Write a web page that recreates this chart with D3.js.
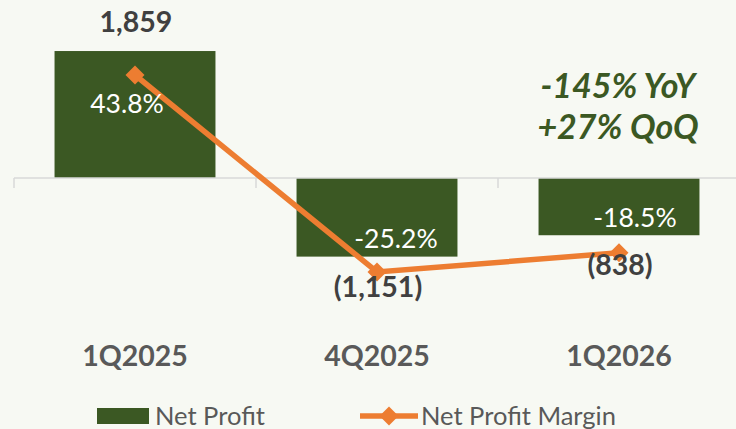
<!DOCTYPE html>
<html>
<head>
<meta charset="utf-8">
<script src="https://cdn.jsdelivr.net/npm/d3@7"></script>
<style>
  html, body { margin: 0; padding: 0; background: #f7f9f3; }
  svg { display: block; font-family: Lato, "Open Sans", sans-serif; }
</style>
</head>
<body>
<div id="chart"></div>
<script>
const categories = ["1Q2025", "4Q2025", "1Q2026"];
const netProfit = [1859, -1151, -838];
const netMargin = [43.8, -25.2, -18.5];
const profitLabels = ["1,859", "(1,151)", "(838)"];
const marginLabels = ["43.8%", "-25.2%", "-18.5%"];
const notes = ["-145% YoY", "+27% QoQ"];

const width = 736, height = 429;
const green = "#3b5823", orange = "#ed7d31", grey = "#595959";

const svg = d3.select("#chart").append("svg")
    .attr("width", width)
    .attr("height", height);

const x = d3.scaleBand()
    .domain(categories)
    .range([14, 740])
    .paddingInner(0.335)
    .paddingOuter(0.1675);

const y = d3.scaleLinear().domain([-2000, 2000]).range([314.6, 41.4]);
const y2 = d3.scaleLinear().domain([-50, 50]).range([342.7, 57.3]);

const cx = d => x(d) + x.bandwidth() / 2;

// bars
svg.selectAll(".bar")
    .data(netProfit)
    .enter().append("rect")
    .attr("class", "bar")
    .attr("x", (d, i) => x(categories[i]))
    .attr("y", d => Math.min(y(d), y(0)))
    .attr("width", x.bandwidth())
    .attr("height", d => Math.abs(y(d) - y(0)))
    .attr("fill", green);

// category axis line + ticks
const axis = svg.append("g").attr("transform", `translate(0,${y(0)})`);
axis.append("line")
    .attr("x1", 14).attr("x2", 740)
    .attr("stroke", "#d9d9d9").attr("stroke-width", 1.5);
const step = x.step();
axis.selectAll(".tick")
    .data(d3.range(categories.length + 1))
    .enter().append("line")
    .attr("x1", i => 14 + i * step).attr("x2", i => 14 + i * step)
    .attr("y1", 0).attr("y2", 10)
    .attr("stroke", "#d9d9d9").attr("stroke-width", 1.5);

// category labels
svg.selectAll(".cat")
    .data(categories)
    .enter().append("text")
    .attr("x", d => cx(d))
    .attr("y", 366)
    .attr("text-anchor", "middle")
    .attr("font-size", 28.5)
    .attr("font-weight", 700)
    .attr("fill", grey)
    .text(d => d);

// margin line
const line = d3.line()
    .x((d, i) => cx(categories[i]))
    .y(d => y2(d));

svg.append("path")
    .datum(netMargin)
    .attr("d", line)
    .attr("fill", "none")
    .attr("stroke", orange)
    .attr("stroke-width", 5.5);

const diamond = r => `M0,${-r}L${r},0L0,${r}L${-r},0Z`;

svg.selectAll(".marker")
    .data(netMargin)
    .enter().append("path")
    .attr("d", diamond(9.5))
    .attr("transform", (d, i) => `translate(${cx(categories[i])},${y2(d)})`)
    .attr("fill", orange);

// profit labels
svg.selectAll(".plabel")
    .data(netProfit)
    .enter().append("text")
    .attr("x", (d, i) => cx(categories[i]) + 1)
    .attr("y", d => d >= 0 ? y(d) - 19 : y(d) + 40)
    .attr("text-anchor", "middle")
    .attr("font-size", 28.5)
    .attr("font-weight", 700)
    .attr("fill", "#404040")
    .text((d, i) => profitLabels[i]);

// margin labels
const labelOffsets = [[-8, 38], [19, -24], [16, -26]];
svg.selectAll(".mlabel")
    .data(netMargin)
    .enter().append("text")
    .attr("x", (d, i) => cx(categories[i]) + labelOffsets[i][0])
    .attr("y", (d, i) => y2(d) + labelOffsets[i][1])
    .attr("text-anchor", "middle")
    .attr("font-size", 26.5)
    .attr("fill", "#ffffff")
    .text((d, i) => marginLabels[i]);

// YoY / QoQ note
svg.selectAll(".note")
    .data(notes)
    .enter().append("text")
    .attr("x", 618)
    .attr("y", (d, i) => 98 + i * 41)
    .attr("text-anchor", "middle")
    .attr("font-size", 34)
    .attr("font-weight", 700)
    .attr("font-style", "italic")
    .attr("fill", green)
    .text(d => d);

// legend
const legend = svg.append("g");
legend.append("rect")
    .attr("x", 97).attr("y", 408)
    .attr("width", 52).attr("height", 16)
    .attr("fill", green);
legend.append("text")
    .attr("x", 155).attr("y", 425)
    .attr("font-size", 25.5)
    .attr("fill", grey)
    .text("Net Profit");
legend.append("line")
    .attr("x1", 360).attr("x2", 418)
    .attr("y1", 416).attr("y2", 416)
    .attr("stroke", orange).attr("stroke-width", 5.5);
legend.append("path")
    .attr("d", diamond(9.5))
    .attr("transform", "translate(389,416)")
    .attr("fill", orange);
legend.append("text")
    .attr("x", 421).attr("y", 425)
    .attr("font-size", 25.5)
    .attr("fill", grey)
    .text("Net Profit Margin");
</script>
</body>
</html>
